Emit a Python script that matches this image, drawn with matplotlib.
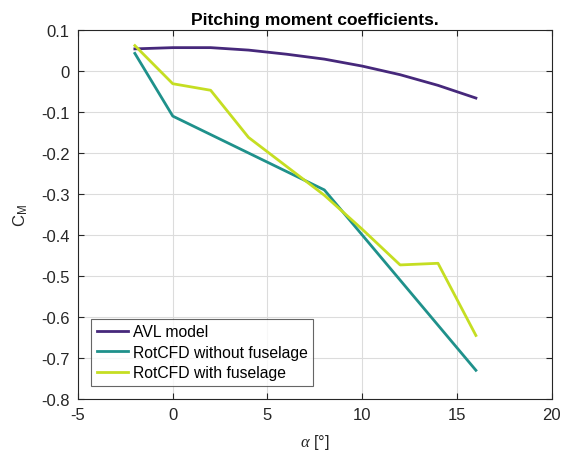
import matplotlib
matplotlib.use("Agg")
import matplotlib.pyplot as plt

plt.rcParams['font.family'] = ['Liberation Sans', 'DejaVu Sans']
plt.rcParams['mathtext.fontset'] = 'custom'
plt.rcParams['mathtext.it'] = 'Liberation Serif:italic'
plt.rcParams['mathtext.rm'] = 'Liberation Sans'

# angle of attack [deg]
alpha_avl = [-2, 0, 2, 4, 6, 8, 10, 12, 14, 16]
cm_avl = [0.054, 0.057, 0.057, 0.051, 0.041, 0.029, 0.012, -0.009, -0.035, -0.066]

alpha_nofus = [-2, 0, 8, 16]
cm_nofus = [0.043, -0.110, -0.290, -0.730]

alpha_fus = [-2, 0, 2, 4, 8, 10, 12, 14, 16]
cm_fus = [0.062, -0.031, -0.047, -0.162, -0.303, -0.386, -0.473, -0.469, -0.645]

labels = ['AVL model', 'RotCFD without fuselage', 'RotCFD with fuselage']
colors = ['#46287b', '#1f918b', '#c5de22']

fig = plt.figure(figsize=(5.67, 4.56), dpi=100)
ax = fig.add_axes([0.1376, 0.1228, 0.8354, 0.8092])

ax.plot(alpha_avl, cm_avl, color=colors[0], lw=2, label=labels[0])
ax.plot(alpha_nofus, cm_nofus, color=colors[1], lw=2, label=labels[1])
ax.plot(alpha_fus, cm_fus, color=colors[2], lw=2, label=labels[2])

ax.set_xlim(-5, 20)
ax.set_ylim(-0.8, 0.1)
ax.set_xticks(range(-5, 21, 5))
ax.set_yticks([-0.8, -0.7, -0.6, -0.5, -0.4, -0.3, -0.2, -0.1, 0, 0.1])
ax.set_yticklabels(['-0.8', '-0.7', '-0.6', '-0.5', '-0.4', '-0.3', '-0.2', '-0.1', '0', '0.1'])
ax.set_xticklabels(['-5', '0', '5', '10', '15', '20'])
ax.grid(True, color='#dcdcdc', lw=0.8)
ax.set_axisbelow(True)
ax.tick_params(direction='in', top=True, right=True, length=4, width=0.8,
               labelsize=12, colors='#262626', pad=6)
for s in ax.spines.values():
    s.set_color('#262626')
    s.set_linewidth(0.8)

ax.set_title('Pitching moment coefficients.', fontsize=12.5, fontweight='bold', pad=4)
ax.set_xlabel(r'$\alpha$ [°]', fontsize=12, color='#262626', labelpad=7)
ax.set_ylabel(r'C$_\mathregular{M}$', fontsize=12, color='#262626', labelpad=8)

leg = ax.legend(loc='lower left', fontsize=11.35, frameon=True, fancybox=False,
                edgecolor='#404040', handlelength=2.0, borderpad=0.35,
                labelspacing=0.35, handletextpad=0.28, borderaxespad=0.85)
leg.get_frame().set_linewidth(0.8)

fig.savefig('out.png', dpi=100)
